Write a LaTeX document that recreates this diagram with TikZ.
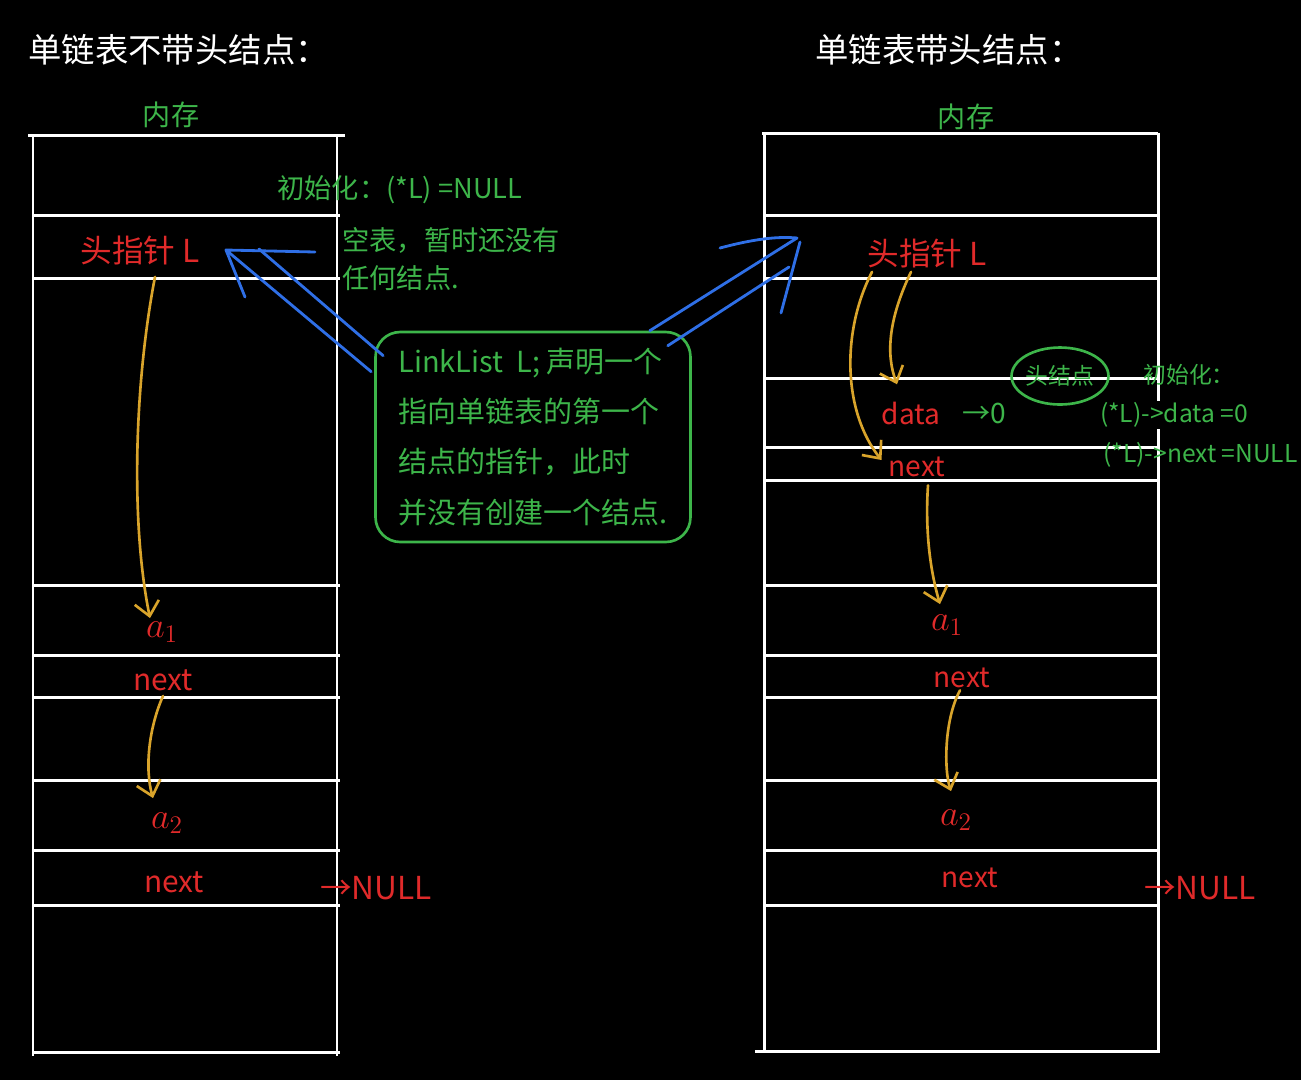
\documentclass[tikz,border=0pt]{standalone}
\usepackage{fontspec}
\newfontfamily\cjk{Noto Sans CJK SC}
\usepackage{xcolor}
\definecolor{boardGreen}{HTML}{3DB54A}
\definecolor{boardRed}{HTML}{E02A2A}
\definecolor{boardGold}{HTML}{D9A42B}
\definecolor{boardBlue}{HTML}{2F6FE6}
\usepackage{tikz}
\usetikzlibrary{
  arrows.meta,
  positioning,
  shapes.geometric,
  calc
}
\tikzset{
  memline/.style={draw=white,line width=1.7pt},
  redlabel/.style={text=boardRed,inner sep=0pt,font=\cjk\fontsize{#1}{#1}\selectfont},
  redlabel/.default=16,
  greenlabel/.style={text=boardGreen,inner sep=0pt,anchor=west,font=\cjk\fontsize{#1}{#1}\selectfont},
  greenlabel/.default=15.5,
  titlelabel/.style={text=white,inner sep=0pt,anchor=west,font=\cjk\fontsize{19}{19}\selectfont},
  memlabel/.style={text=boardGreen,inner sep=0pt,font=\cjk\fontsize{16}{16}\selectfont},
  ptrarr/.style={draw=boardGold,line width=1.5pt,line cap=round,
    -{Straight Barb[length=8pt,width=14pt,line width=1.5pt]}},
  declarr/.style={draw=boardBlue,line width=1.6pt,line cap=round,line join=round},
}

\begin{document}
\begin{tikzpicture}[
  x=0.02cm,y=-0.02cm,
  notebox/.style={
    rectangle,draw=boardGreen,line width=1.5pt,rounded corners=14pt,
    minimum width=6.3cm,minimum height=4.2cm,
    align=left,text=boardGreen,
    font=\cjk\fontsize{16.5}{28.5}\selectfont
  },
  headellipse/.style={
    ellipse,draw=boardGreen,line width=1.5pt,
    minimum width=1.94cm,minimum height=1.14cm,inner sep=0pt,
    text=boardGreen,font=\cjk\fontsize{13}{13}\selectfont
  }
]
\useasboundingbox (0,0) rectangle (1301,1080);
\fill[black] (0,0) rectangle (1301,1080);

%% -- titles ------------------------------------------------
\node[titlelabel] (ltitle) at (28,50) {单链表不带头结点：};
\node[titlelabel] (rtitle) at (815,50) {单链表带头结点：};
\node[memlabel] (lmem) at (171,115) {内存};
\node[memlabel] (rmem) at (966,117) {内存};

%% -- memory, no head node ----------------------------------
\draw[memline] (28,135) -- (345,135);
\draw[memline] (33,135) -- (33,1056);
\draw[memline] (337,135) -- (337,1056);
\foreach \y in {215,278,585,655,697,780,850,905,1052}
  \draw[memline] (33,\y) -- (340,\y);

%% -- memory, with head node --------------------------------
\draw[memline] (762,133) -- (1158,133);
\draw[memline] (764,133) -- (764,1052);
\draw[memline] (1158,133) -- (1158,1052);
\foreach \y in {215,278,378,447,480,585,655,697,780,850,905}
  \draw[memline] (764,\y) -- (1158,\y);
\draw[memline] (755,1051) -- (1160,1051);

%% -- left list ---------------------------------------------
\node[redlabel=18] (lhead) at (140,250) {头指针\ L};
\node[redlabel=21] (la1) at (162,632) {$a_1$};
\node[redlabel=17] (lnexta) at (163,680) {next};
\node[redlabel=21] (la2) at (167,823) {$a_2$};
\node[redlabel=17] (lnextb) at (174,882) {next};
\node[redlabel=18,anchor=west] (lnull) at (320,888) {→NULL};

\node[greenlabel] (linit) at (277,190) {初始化：(*L) =NULL};
\node[greenlabel] (lempty) at (342,240) {空表，暂时还没有};
\node[greenlabel] (lnone) at (342,278) {任何结点.};

\draw[ptrarr] ($(lhead.south)+(15,12)$) .. controls (135,380) and (130,520) .. ($(la1.north)+(-12,-3)$);
\draw[ptrarr] ($(lnexta.south)+(0,5)$) .. controls (148,730) and (145,770) .. ($(la2.north)+(-14,-14)$);

%% -- right list --------------------------------------------
\node[redlabel=18] (rhead) at (927,253) {头指针\ L};
\node[redlabel=16] (rdata) at (911,413) {data};
\node[greenlabel=16] (rzero) at (962,413) {→0};
\node[redlabel=16] (rnext0) at (917,467) {next};
\node[headellipse] (rheadnode) at (1060,376) {头结点};
\node[greenlabel=13] (rinit) at (1143,375) {初始化：};
\node[greenlabel=14,fill=black,inner sep=1pt] (rinitdata) at (1098,415) {(*L)->data =0};
\node[greenlabel=14] (rinitnext) at (1103,455) {(*L)->next =NULL};

\node[redlabel=21] (ra1) at (947,625) {$a_1$};
\node[redlabel=16] (rnexta) at (962,678) {next};
\node[redlabel=21] (ra2) at (956,820) {$a_2$};
\node[redlabel=16] (rnextb) at (970,878) {next};
\node[redlabel=18,anchor=west] (rnull) at (1144,888) {→NULL};

\draw[ptrarr] ($(rhead.south)+(-16,4)$) .. controls (888,320) and (886,355) .. ($(rdata.north)+(-14,-17)$);
\draw[ptrarr] ($(rhead.south)+(-55,4)$) .. controls (842,330) and (842,410) .. ($(rnext0.west)+(-7,-7)$);
\draw[ptrarr] ($(rnext0.south)+(11,8)$) .. controls (925,530) and (930,570) .. ($(ra1.north)+(-7,-10)$);
\draw[ptrarr] ($(rnexta.south)+(-2,2)$) .. controls (944,720) and (944,770) .. ($(ra2.north)+(-5,-18)$);

%% -- declaration note --------------------------------------
\node[notebox] (note) at (533,437)
  {LinkList\ \ L; 声明一个\\指向单链表的第一个\\结点的指针，此时\\并没有创建一个结点.};

\coordinate (ltip) at (226,250);
\coordinate (rtip) at (797,238);
\draw[declarr] ($(note.north west)+(-3,41)$) -- (ltip) -- (315,252);
\draw[declarr] ($(note.north west)+(9,25)$) -- (259,249);
\draw[declarr] (ltip) -- (245,297);
\draw[declarr] ($(note.north east)+(-42,0)$) -- (rtip);
\draw[declarr] ($(note.north east)+(-24,15)$) -- (789,267);
\draw[declarr] (720,248) .. controls (750,240) and (775,236) .. (rtip);
\draw[declarr] ($(rtip)+(3,4)$) -- (781,313);

\end{tikzpicture}
\end{document}
